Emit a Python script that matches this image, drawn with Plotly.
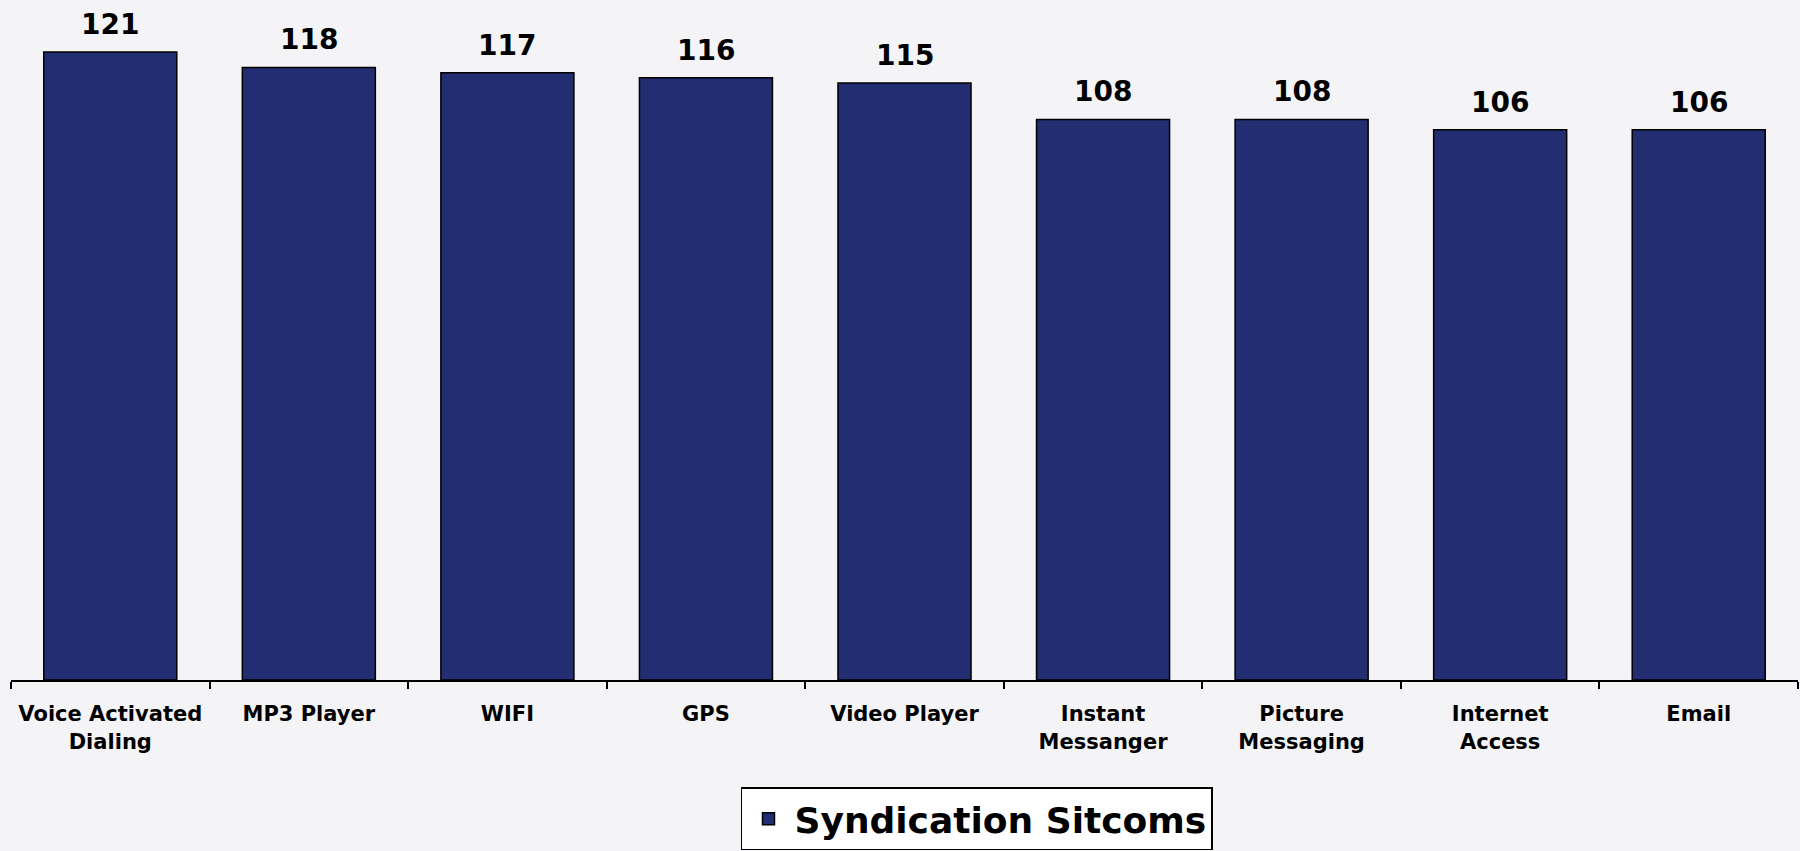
import plotly.graph_objects as go

categories = ["Voice Activated<br>Dialing", "MP3 Player", "WIFI", "GPS", "Video Player",
              "Instant<br>Messanger", "Picture<br>Messaging", "Internet<br>Access", "Email"]
values = [121, 118, 117, 116, 115, 108, 108, 106, 106]
series_name = "Syndication Sitcoms"

FONT = "DejaVu Sans"
BAR = "#232d72"

fig = go.Figure()
fig.add_trace(go.Bar(
    x=categories, y=values, name=f"<b>{series_name}</b>",
    marker=dict(color=BAR, line=dict(color="#000000", width=1.5)),
    showlegend=True,
))

for c, v in zip(categories, values):
    fig.add_annotation(x=c, y=v, text=f"<b>{v}</b>", showarrow=False,
                       yanchor="bottom", yshift=9,
                       font=dict(family=FONT, size=28, color="#000000"))

fig.update_layout(
    width=1800, height=851,
    margin=dict(l=11, r=2, t=0, b=169),
    paper_bgcolor="#f4f4f7",
    plot_bgcolor="rgba(0,0,0,0)",
    bargap=0.33,
    showlegend=True,
    legend=dict(
        x=0.4085, y=-0.158, xanchor="left", yanchor="top",
        bgcolor="#ffffff", bordercolor="#000000", borderwidth=1.5,
        itemwidth=42,
        font=dict(family=FONT, size=36, color="#000000"),
    ),
    xaxis=dict(
        showline=True, linecolor="#000000", linewidth=2,
        ticks="outside", tickson="boundaries", ticklen=7, tickcolor="#000000", tickwidth=1.5,
        tickfont=dict(family=FONT, size=21, color="#000000"),
        ticklabelstandoff=14,
        tickvals=categories,
        ticktext=[f"<b>{c}</b>" for c in categories],
        showgrid=False, zeroline=False,
    ),
    yaxis=dict(range=[0, 131], visible=False, showgrid=False, zeroline=False),
)

fig.write_html("out.html",
               config={"displayModeBar": False},
               post_script="document.body.style.margin='0';document.body.style.background='#f4f4f7';")
